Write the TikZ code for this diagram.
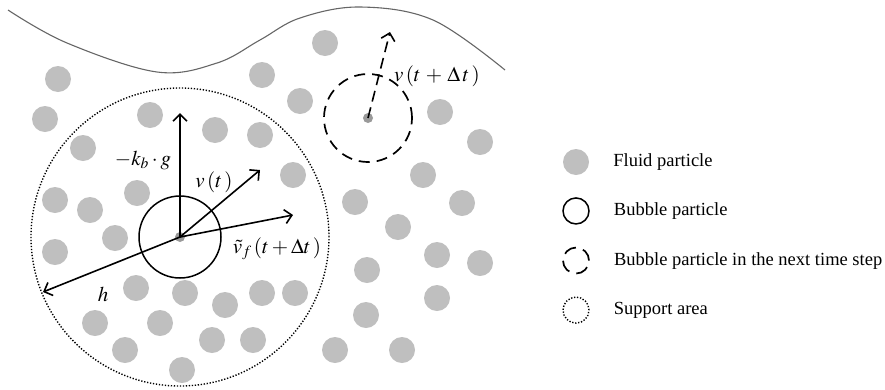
\documentclass[tikz,border=0pt]{standalone}
\usepackage{mathptmx}
\usepackage{fontspec}
\setmainfont{Liberation Serif}
\usetikzlibrary{arrows.meta,positioning}
\definecolor{fluidgray}{HTML}{BFBFBF}
\definecolor{coregray}{HTML}{9A9A9A}
\definecolor{wallgray}{HTML}{666666}
\tikzset{
  fluid/.style={circle, fill=fluidgray, minimum size=26pt, inner sep=0pt},
  bubble/.style={circle, draw=black, line width=1.5pt,
    minimum size=#1, inner sep=0pt},
  bubble/.default=82pt,
  nextbubble/.style={circle, draw=black, line width=1.7pt,
    dash pattern=on 11pt off 7pt, minimum size=#1, inner sep=0pt},
  nextbubble/.default=88pt,
  support/.style={circle, draw=black, line width=1.4pt,
    dash pattern=on 1.3pt off 1.7pt, minimum size=#1, inner sep=0pt},
  support/.default=298pt,
  core/.style={circle, fill=coregray, minimum size=10pt, inner sep=0pt},
  vec/.style={-{Straight Barb[length=7pt,width=14pt]}, line width=1.6pt},
  mathlabel/.style={inner sep=0pt, font=\fontsize{21}{24}\selectfont},
  legendtext/.style={anchor=west, inner sep=0pt,
    font=\fontsize{18.5}{22}\selectfont},
}

\begin{document}
\begin{tikzpicture}[x=1pt, y=-1pt, node distance=22pt and 24pt]
    \useasboundingbox (0,0) rectangle (885,389);

    % Free surface
    \draw[wallgray, line width=1.1pt] plot[smooth, tension=0.6] coordinates
      {(8,10) (67,43) (157,72) (217,63) (260,40) (300,18) (360,7) (433,20) (505,70)};

    % Fluid particles
    \foreach \px/\py [count=\i] in {325/43, 58/79, 262/75, 300/101, 440/112,
        45/119, 150/115, 215/130, 260/135, 83/148, 480/142, 293/175, 423/175,
        55/200, 90/210, 137/193, 355/202, 462/203, 115/238, 55/252, 398/227,
        437/255, 480/263, 367/270, 136/288, 185/293, 225/305, 262/293, 295/293,
        437/298, 366/315, 95/323, 160/323, 125/350, 212/340, 253/340, 182/370,
        335/350, 402/350}
      \node[fluid] (f\i) at (\px,\py) {};

    % Support area around the bubble particle
    \node[support] (area) at (180,237) {};
    \node[bubble] (bub) at (180,237) {};
    \node[core] (bubc) at (180,237) {};

    % Vectors at the bubble particle
    \coordinate (buoy) at (180,113);
    \coordinate (vel) at (260,170);
    \coordinate (fvel) at (293,215);
    \coordinate (hend) at (43,292);
    \draw[vec] (bubc.center) -- (buoy);
    \draw[vec] (bubc.center) -- (vel);
    \draw[vec] (bubc.center) -- (fvel);
    \draw[vec] (bubc.center) -- (hend);
    \node[mathlabel] (lbuoy) at (143,160) {$-k_b\cdot g$};
    \node[mathlabel] (lvel) at (214,182) {$v\,(t\,)$};
    \node[mathlabel] (lfvel) at (277,249) {$\tilde{v}_f\,(t+\Delta t\,)$};
    \node[mathlabel] (lh) at (103,294) {$h$};

    % Bubble particle in the next time step
    \node[nextbubble] (next) at (368,118) {};
    \node[core] (nextc) at (368,118) {};
    \coordinate (nvel) at (390,32);
    \draw[vec, dash pattern=on 11pt off 6pt] (nextc.center) -- (nvel);
    \node[mathlabel] (lnvel) at (437,76) {$v\,(t\,+\,\Delta\,t\,)$};

    % Legend
    \node[fluid] (lfluid) at (576,162) {};
    \node[bubble=26pt, below=of lfluid] (lbub) {};
    \node[nextbubble=26pt, dash pattern=on 13pt off 7.4pt, below=of lbub] (lnext) {};
    \node[support=26pt, below=of lnext] (larea) {};
    \node[legendtext, right=of lfluid] {Fluid particle};
    \node[legendtext, right=of lbub] {Bubble particle};
    \node[legendtext, right=of lnext] {Bubble particle in the next time step};
    \node[legendtext, right=of larea] {Support area};
\end{tikzpicture}
\end{document}
